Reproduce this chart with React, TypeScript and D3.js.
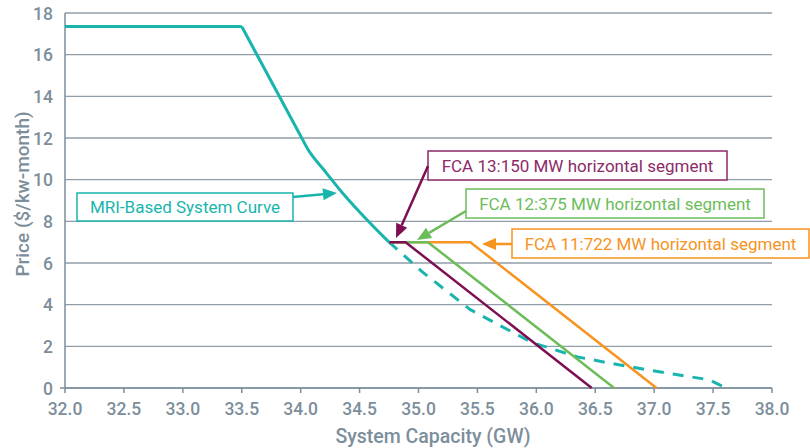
import React from "react";
import * as d3 from "d3";

const xTicks = [32.0, 32.5, 33.0, 33.5, 34.0, 34.5, 35.0, 35.5, 36.0, 36.5, 37.0, 37.5, 38.0];
const yTicks = [0, 2, 4, 6, 8, 10, 12, 14, 16, 18];

const mriFlatX = [32.0, 33.5];
const mriFlatY = [17.35, 17.35];
const mriX = [33.5, 34.0, 34.06, 34.2, 34.35, 34.5, 34.75];
const mriY = [17.35, 12.1, 11.47, 10.45, 9.4, 8.45, 7.0];

const dashX = [34.75, 35.04, 35.44, 35.84, 35.97, 36.35, 36.71, 37.16, 37.47, 37.56, 37.62];
const dashY = [7.0, 5.54, 3.76, 2.55, 2.17, 1.49, 1.1, 0.67, 0.39, 0.14, 0];

const fca11X = [34.75, 35.44, 37.02];
const fca11Y = [7.0, 7.0, 0];
const fca12X = [34.75, 35.08, 36.66];
const fca12Y = [7.0, 7.0, 0];
const fca13X = [34.75, 34.89, 36.47];
const fca13Y = [7.0, 7.0, 0];

const labels = [
  "MRI-Based System Curve",
  "FCA 13:150 MW horizontal segment",
  "FCA 12:375 MW horizontal segment",
  "FCA 11:722 MW horizontal segment",
];

const TEAL = "#19b5ad";
const PURPLE = "#7d0f52";
const PURPLE_T = "#8c2a68";
const GREEN = "#6cbd5a";
const ORANGE = "#f7931e";
const AXIS = "#7d8e9b";
const GRID = "#8f9ea9";

const W = 810;
const H = 448;

export default function App() {
  const x = d3.scaleLinear().domain([32, 38]).range([65, 772]);
  const y = d3.scaleLinear().domain([0, 18]).range([388, 13]);
  const line = d3
    .line<[number, number]>()
    .x((d) => x(d[0]))
    .y((d) => y(d[1]));
  const smooth = d3
    .line<[number, number]>()
    .x((d) => x(d[0]))
    .y((d) => y(d[1]))
    .curve(d3.curveMonotoneX);
  const pts = (xs: number[], ys: number[]) => xs.map((v, i) => [v, ys[i]] as [number, number]);

  const tickFont = "Roboto, 'Noto Sans', sans-serif";
  const labFont = "Roboto, 'Noto Sans', sans-serif";

  const boxes = [
    { x0: 77, y0: 193, x1: 293, y1: 221, color: TEAL, text: TEAL, from: [293, 197], to: [337, 193], label: labels[0] },
    { x0: 428, y0: 151, x1: 727, y1: 180, color: PURPLE_T, text: PURPLE_T, from: [428, 166], to: [396, 238], label: labels[1], arrow: PURPLE },
    { x0: 466, y0: 189, x1: 764, y1: 218, color: GREEN, text: GREEN, from: [466, 211], to: [417, 240], label: labels[2] },
    { x0: 512, y0: 229, x1: 809, y1: 258, color: ORANGE, text: ORANGE, from: [512, 244], to: [482, 244], label: labels[3] },
  ];

  const arrowHead = (from: number[], to: number[], color: string, key: string) => {
    const dx = to[0] - from[0];
    const dy = to[1] - from[1];
    const len = Math.sqrt(dx * dx + dy * dy);
    const ux = dx / len;
    const uy = dy / len;
    const hl = 14;
    const hw = 6;
    const bx = to[0] - ux * hl;
    const by = to[1] - uy * hl;
    const p = [
      [to[0], to[1]],
      [bx - uy * hw, by + ux * hw],
      [bx + uy * hw, by - ux * hw],
    ];
    return (
      <g key={key}>
        <line x1={from[0]} y1={from[1]} x2={bx} y2={by} stroke={color} strokeWidth={2.5} />
        <polygon points={p.map((q) => q.join(",")).join(" ")} fill={color} />
      </g>
    );
  };

  return (
    <svg width={W} height={H} style={{ position: "absolute", left: 0, top: 0, background: "#fff" }}>
      {yTicks.map((t) => (
        <line key={"g" + t} x1={x(32)} x2={x(38)} y1={y(t)} y2={y(t)} stroke={GRID} strokeWidth={1.3} />
      ))}
      <line x1={x(32)} x2={x(32)} y1={y(18)} y2={y(0)} stroke={AXIS} strokeWidth={1.5} />
      <line x1={x(32)} x2={x(38)} y1={y(0)} y2={y(0)} stroke={AXIS} strokeWidth={1.5} />
      <line x1={x(32) - 5} x2={x(32)} y1={y(0)} y2={y(0)} stroke={AXIS} strokeWidth={1.5} />
      {xTicks.map((t) => (
        <g key={"x" + t}>
          <line x1={x(t)} x2={x(t)} y1={y(0)} y2={y(0) + 5} stroke={AXIS} strokeWidth={1.5} />
          <text x={x(t)} y={415} textAnchor="middle" fontFamily={tickFont} fontWeight={500} fontSize={17.5} fill={AXIS}>
            {t.toFixed(1)}
          </text>
        </g>
      ))}
      {yTicks.map((t) => (
        <text key={"y" + t} x={53} y={y(t) + 6.5} textAnchor="end" fontFamily={tickFont} fontWeight={500} fontSize={17.5} fill={AXIS}>
          {t}
        </text>
      ))}
      <text x={433} y={443} textAnchor="middle" fontFamily={labFont} fontWeight={500} fontSize={19.5} fill={AXIS}>
        System Capacity (GW)
      </text>
      <text
        transform={`translate(29,${194}) rotate(-90)`}
        textAnchor="middle"
        fontFamily={labFont}
        fontWeight={500}
        fontSize={19}
        fill={AXIS}
      >
        Price ($/kw-month)
      </text>

      <path d={line(pts(dashX, dashY)) || ""} fill="none" stroke={TEAL} strokeWidth={3} strokeDasharray="11,9" />
      <path d={line(pts(fca11X, fca11Y)) || ""} fill="none" stroke={ORANGE} strokeWidth={2.5} />
      <path d={line(pts(fca12X, fca12Y)) || ""} fill="none" stroke={GREEN} strokeWidth={2.5} />
      <path d={line(pts(fca13X, fca13Y)) || ""} fill="none" stroke={PURPLE} strokeWidth={2.5} />
      <path d={line(pts(mriFlatX, mriFlatY)) || ""} fill="none" stroke={TEAL} strokeWidth={3} />
      <path d={smooth(pts(mriX, mriY)) || ""} fill="none" stroke={TEAL} strokeWidth={3} />

      {boxes.map((b, i) => (
        <g key={"b" + i}>
          <rect x={b.x0} y={b.y0} width={b.x1 - b.x0} height={b.y1 - b.y0} fill="#fff" stroke={b.color} strokeWidth={1.5} />
          <text
            x={(b.x0 + b.x1) / 2}
            y={(b.y0 + b.y1) / 2 + 6}
            textAnchor="middle"
            fontFamily={labFont}
            fontSize={17}
            fill={b.text}
          >
            {b.label}
          </text>
          {arrowHead(b.from, b.to, (b as any).arrow || b.color, "a" + i)}
        </g>
      ))}
    </svg>
  );
}
